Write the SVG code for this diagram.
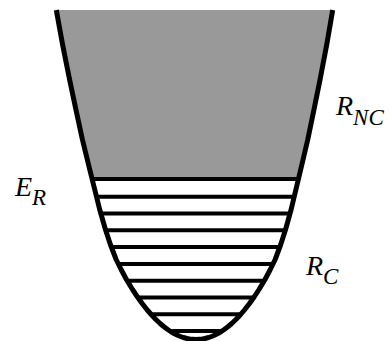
<svg xmlns="http://www.w3.org/2000/svg" width="391" height="341" viewBox="0 0 391 341">
<style>
.lbl{font-family:"Liberation Serif","Times New Roman",serif;font-style:italic;fill:#000}
.big{font-size:28px}
.sub{font-size:23px}
.lvl{stroke:#000;stroke-width:4;fill:none}
.well{stroke:#000;stroke-width:5;fill:none;stroke-linejoin:round}
</style>
<defs>
<path id="curve" d="M56.3,10 L62.56,44.5 L69.57,79.5 L75.9,109.5 L82.39,139.5 L88.5,164.5 L94.72,189.5 L99.68,209.5 L105.43,229.5 L110.39,244.5 L116.14,259.5 L121.08,269.5 L126.45,279.5 L132.52,289.5 L137.15,296.5 L142.17,303.5 L146.87,309.5 L151.17,314.5 L155.91,319.5 L160.15,323.5 L163.69,326.5 L167.67,329.5 L170.66,331.5 L174.06,333.5 L178.09,335.5 L180.49,336.5 L183.33,337.5 L187.04,338.5 L189.66,339 L196,339.5 L202.3,339 L204.92,338.5 L208.63,337.5 L211.47,336.5 L213.87,335.5 L217.88,333.5 L221.26,331.5 L224.23,329.5 L228.19,326.5 L231.71,323.5 L235.91,319.5 L240.61,314.5 L244.85,309.5 L249.51,303.5 L254.45,296.5 L259.02,289.5 L265.01,279.5 L270.28,269.5 L275.14,259.5 L280.75,244.5 L285.57,229.5 L291.14,209.5 L295.92,189.5 L301.9,164.5 L307.79,139.5 L314,109.5 L320.07,79.5 L326.76,44.5 L332.7,10"/>
<clipPath id="inside"><use href="#curve"/></clipPath>
</defs>
<g id="well">
<g clip-path="url(#inside)">
<rect x="0" y="10" width="391" height="169" fill="#999"/>
<g id="levels">
<line class="lvl" x1="0" y1="179" x2="391" y2="179"/>
<line class="lvl" x1="0" y1="196.8" x2="391" y2="196.8"/>
<line class="lvl" x1="0" y1="213.6" x2="391" y2="213.6"/>
<line class="lvl" x1="0" y1="230.3" x2="391" y2="230.3"/>
<line class="lvl" x1="0" y1="247.1" x2="391" y2="247.1"/>
<line class="lvl" x1="0" y1="263.9" x2="391" y2="263.9"/>
<line class="lvl" x1="0" y1="280.7" x2="391" y2="280.7"/>
<line class="lvl" x1="0" y1="297.5" x2="391" y2="297.5"/>
<line class="lvl" x1="0" y1="314.2" x2="391" y2="314.2"/>
<line class="lvl" x1="0" y1="331" x2="391" y2="331"/>
</g>
</g>
<use href="#curve" class="well"/>
</g>
<g id="label-ER"><text class="lbl big" x="15" y="196">E<tspan class="sub" dy="9">R</tspan></text></g>
<g id="label-RNC"><text class="lbl big" x="336" y="115">R<tspan class="sub" dy="10">NC</tspan></text></g>
<g id="label-RC"><text class="lbl big" x="306" y="275">R<tspan class="sub" dy="9">C</tspan></text></g>
</svg>
